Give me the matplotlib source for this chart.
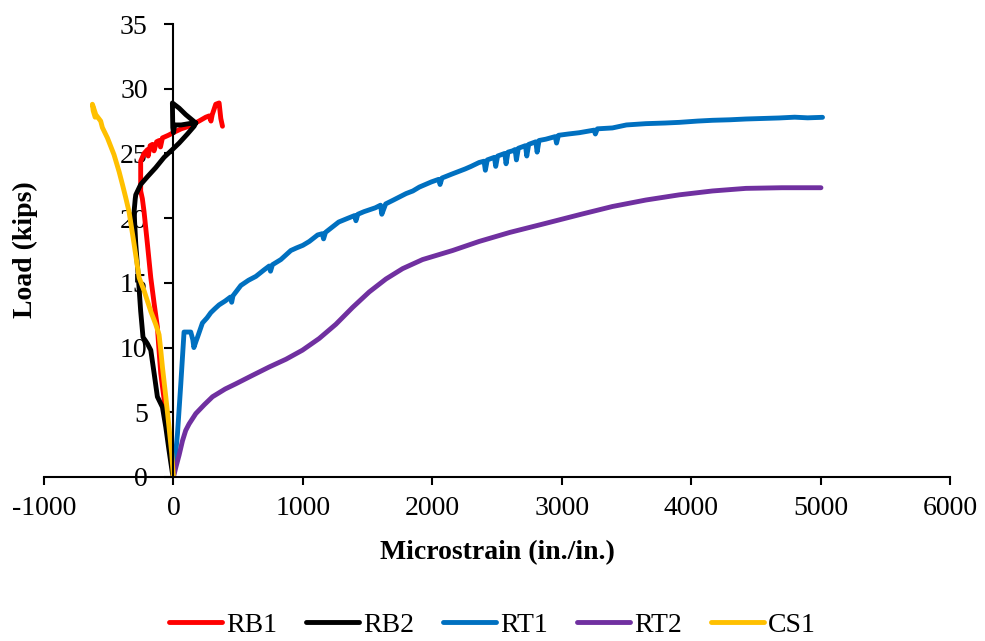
import matplotlib
matplotlib.use("Agg")
import matplotlib.pyplot as plt

plt.rcParams['font.family'] = ['Liberation Serif', 'DejaVu Serif']
plt.rcParams['axes.unicode_minus'] = False

# -----------------------------------
#  DATA
# -----------------------------------

rb1_strain = [0, -34, -64, -98, -115, -124, -149, -175, -201, -227, -240, -253, -253, -227,
              -200, -195, -180, -162, -150, -130, -110, -100, -85, -40, 18, 60, 121, 198,
              250, 276, 290, 300, 327, 353, 366, 379]
rb1_load = [0, 2.8, 5.4, 8.0, 10.3, 11.6, 13.4, 15.4, 18.0, 20.5, 21.5, 22.1, 24.4, 25.0,
            25.3, 24.8, 25.6, 25.7, 25.2, 25.9, 26.0, 25.5, 26.2, 26.4, 26.7, 26.9, 27.1, 27.5,
            27.8, 27.9, 27.5, 28.0, 28.8, 28.9, 27.7, 27.1]

rb2_strain = [0, -8, -34, -59, -85, -124, -149, -175, -201, -214, -235, -253, -271, -291,
              -304, -295, -291, -253, -201, -137, -72, -8, 44, 108, 160, 173, 95, 44, 5, -8,
              -5, 0, 10, 60, 120, 173]
rb2_load = [0, 0.3, 2.05, 3.85, 5.4, 6.2, 8.0, 9.8, 10.3, 10.5, 10.8, 12.8, 15.4, 18.0,
            20.5, 21.5, 21.8, 22.6, 23.2, 23.9, 24.7, 25.3, 25.8, 26.5, 27.1, 27.35, 28.0,
            28.5, 28.8, 28.9, 27.0, 26.6, 27.2, 27.2, 27.3, 27.35]

rt1_strain = [0, 31, 57, 82, 134, 150, 158, 175, 186, 224, 260, 289, 320, 353, 400, 440,
              450, 460, 521, 580, 637, 700, 740, 750, 765, 830, 907, 951, 1000, 1050, 1114,
              1150, 1160, 1175, 1277, 1350, 1400, 1410, 1425, 1472, 1560, 1600, 1610, 1640,
              1700, 1798, 1850, 1900, 1993, 2050, 2060, 2075, 2150, 2254, 2300, 2362, 2400,
              2410, 2425, 2480, 2490, 2505, 2560, 2570, 2585, 2620, 2640, 2650, 2665, 2720,
              2730, 2745, 2800, 2810, 2825, 2877, 2950, 2960, 2975, 3050, 3135, 3250, 3260,
              3275, 3392, 3500, 3650, 3800, 3908, 4050, 4165, 4300, 4423, 4550, 4680, 4800,
              4900, 5015]
rt1_load = [0, 3.3, 7.2, 11.2, 11.2, 10.6, 10.0, 10.5, 10.8, 11.9, 12.3, 12.7, 13.0, 13.3,
            13.6, 13.9, 13.5, 14.0, 14.8, 15.2, 15.5, 16.0, 16.3, 15.9, 16.4, 16.8, 17.5,
            17.7, 17.9, 18.2, 18.7, 18.8, 18.4, 18.9, 19.7, 20.0, 20.2, 19.8, 20.3, 20.5,
            20.8, 21.0, 20.3, 21.1, 21.4, 21.9, 22.1, 22.4, 22.8, 23.0, 22.6, 23.1, 23.4,
            23.8, 24.0, 24.3, 24.4, 23.7, 24.5, 24.7, 24.0, 24.8, 25.0, 24.2, 25.1, 25.2,
            25.3, 24.5, 25.4, 25.6, 24.8, 25.7, 25.9, 25.1, 26.0, 26.1, 26.3, 25.8, 26.4,
            26.5, 26.6, 26.8, 26.5, 26.9, 26.97, 27.2, 27.3, 27.35, 27.4, 27.5, 27.56, 27.6,
            27.66, 27.7, 27.74, 27.8, 27.75, 27.79]

rt2_strain = [0, 20, 44, 70, 95, 121, 173, 240, 302, 400, 482, 600, 740, 870, 997, 1126,
              1255, 1384, 1513, 1642, 1771, 1925, 2157, 2362, 2600, 2877, 3150, 3392, 3650,
              3908, 4165, 4423, 4700, 5003]
rt2_load = [0, 0.8, 1.7, 2.8, 3.6, 4.1, 4.9, 5.6, 6.2, 6.8, 7.2, 7.8, 8.5, 9.1, 9.8, 10.7,
            11.8, 13.1, 14.3, 15.3, 16.1, 16.8, 17.5, 18.2, 18.9, 19.6, 20.3, 20.9, 21.4,
            21.8, 22.1, 22.3, 22.35, 22.35]

cs1_strain = [0, -13, -34, -59, -85, -100, -111, -137, -175, -227, -265, -304, -343, -369,
              -394, -420, -459, -510, -549, -562, -600, -626, -620, -605]
cs1_load = [0, 1.8, 3.85, 6.2, 8.5, 10.0, 11.0, 11.8, 12.8, 14.4, 15.4, 18.0, 20.5, 21.6,
            22.6, 23.6, 24.9, 26.2, 27.0, 27.5, 28.0, 28.8, 28.3, 27.8]

series = [
    ("RB1", rb1_strain, rb1_load, "#FF0000"),
    ("RB2", rb2_strain, rb2_load, "#000000"),
    ("RT1", rt1_strain, rt1_load, "#0070C0"),
    ("RT2", rt2_strain, rt2_load, "#7030A0"),
    ("CS1", cs1_strain, cs1_load, "#FFC000"),
]

# -----------------------------------
#  PLOT
# -----------------------------------

fig = plt.figure(figsize=(9.85, 6.41), dpi=100)
ax = fig.add_axes([44 / 985, 1 - 477 / 641, 906 / 985, 453 / 641])

for name, xs, ys, col in series:
    ax.plot(xs, ys, color=col, lw=3.5, label=name,
            solid_joinstyle='round', solid_capstyle='round')

ax.set_xlim(-1000, 6000)
ax.set_ylim(0, 35)
ax.set_xticks(range(-1000, 6001, 1000))
ax.set_yticks(range(0, 36, 5))

ax.spines['left'].set_position(('data', 0))
ax.spines['bottom'].set_position(('data', 0))
ax.spines['top'].set_visible(False)
ax.spines['right'].set_visible(False)
for s in ('left', 'bottom'):
    ax.spines[s].set_linewidth(1.5)

ax.tick_params(axis='y', direction='out', length=6.5, width=1.5, pad=12, labelsize=20)
ax.tick_params(axis='x', direction='out', length=6, width=1.5, pad=8, labelsize=20)

fig.text(497 / 985, 1 - 553 / 641, "Microstrain (in./in.)", ha='center', va='center',
         fontsize=20, fontweight='bold')
fig.text(25 / 985, 1 - 250 / 641, "Load (kips)", ha='center', va='center',
         rotation=90, fontsize=20, fontweight='bold')

fig.legend(loc='center', bbox_to_anchor=(0.5, 1 - 625 / 641), ncol=5, frameon=False,
           fontsize=20, handlelength=1.9, handletextpad=0.15, columnspacing=1.05)

fig.savefig("out.png", dpi=100)
